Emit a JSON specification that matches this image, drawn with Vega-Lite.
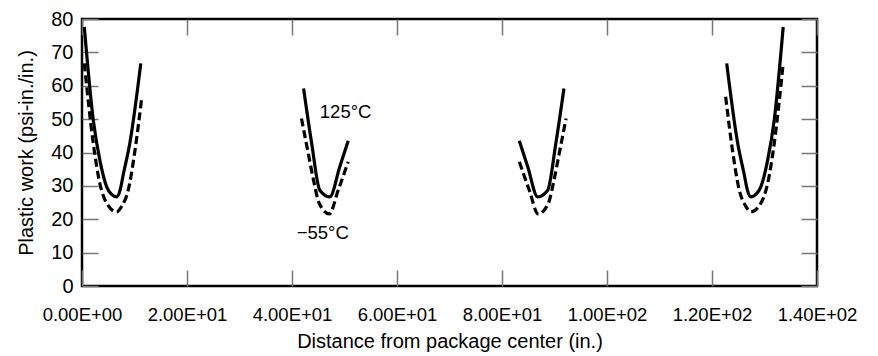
{
  "$schema": "https://vega.github.io/schema/vega-lite/v6.json",
  "width": 735,
  "height": 267,
  "autosize": {"type": "none"},
  "padding": {"left": 82, "top": 19, "right": 61, "bottom": 70},
  "background": "white",
  "config": {
    "view": {"stroke": "black", "strokeWidth": 2.5},
    "font": "Liberation Sans",
    "axis": {"domain": false, "grid": false, "tickColor": "#777777", "tickWidth": 1.5, "labelFont": "Liberation Sans", "titleFont": "Liberation Sans", "labelFontSize": 18.5, "titleFontSize": 20, "titleFontWeight": "normal", "labelColor": "black", "titleColor": "black", "labelOverlap": false, "labelFlush": false, "labelBound": false}
  },
  "datasets": {
    "curves": [
      {"seg": "a", "series": "solid", "x": 0.44, "y": 77.6},
      {"seg": "a", "series": "solid", "x": 2.15, "y": 49.7},
      {"seg": "a", "series": "solid", "x": 3.4, "y": 37.7},
      {"seg": "a", "series": "solid", "x": 4.7, "y": 29.7},
      {"seg": "a", "series": "solid", "x": 5.6, "y": 27.5},
      {"seg": "a", "series": "solid", "x": 6.6, "y": 26.7},
      {"seg": "a", "series": "solid", "x": 7.3, "y": 29.0},
      {"seg": "a", "series": "solid", "x": 7.9, "y": 33.7},
      {"seg": "a", "series": "solid", "x": 9.1, "y": 42.7},
      {"seg": "a", "series": "solid", "x": 11.2, "y": 66.7},
      {"seg": "b", "series": "solid", "x": 42.2, "y": 59.2},
      {"seg": "b", "series": "solid", "x": 43.75, "y": 42.7},
      {"seg": "b", "series": "solid", "x": 45.3, "y": 28.7},
      {"seg": "b", "series": "solid", "x": 47.2, "y": 26.7},
      {"seg": "b", "series": "solid", "x": 49.1, "y": 35.7},
      {"seg": "b", "series": "solid", "x": 50.7, "y": 43.5},
      {"seg": "c", "series": "solid", "x": 83.3, "y": 43.5},
      {"seg": "c", "series": "solid", "x": 84.9, "y": 35.7},
      {"seg": "c", "series": "solid", "x": 86.8, "y": 26.7},
      {"seg": "c", "series": "solid", "x": 88.7, "y": 28.7},
      {"seg": "c", "series": "solid", "x": 90.25, "y": 42.7},
      {"seg": "c", "series": "solid", "x": 91.8, "y": 59.2},
      {"seg": "d", "series": "solid", "x": 122.8, "y": 66.7},
      {"seg": "d", "series": "solid", "x": 124.9, "y": 42.7},
      {"seg": "d", "series": "solid", "x": 126.1, "y": 33.7},
      {"seg": "d", "series": "solid", "x": 126.7, "y": 29.0},
      {"seg": "d", "series": "solid", "x": 127.4, "y": 26.7},
      {"seg": "d", "series": "solid", "x": 128.4, "y": 27.5},
      {"seg": "d", "series": "solid", "x": 129.3, "y": 29.7},
      {"seg": "d", "series": "solid", "x": 130.6, "y": 37.7},
      {"seg": "d", "series": "solid", "x": 131.85, "y": 49.7},
      {"seg": "d", "series": "solid", "x": 133.56, "y": 77.6},
      {"seg": "a", "series": "dashed", "x": 0.44, "y": 66.7},
      {"seg": "a", "series": "dashed", "x": 2.15, "y": 42.7},
      {"seg": "a", "series": "dashed", "x": 3.4, "y": 30.7},
      {"seg": "a", "series": "dashed", "x": 4.7, "y": 24.8},
      {"seg": "a", "series": "dashed", "x": 6.6, "y": 22.2},
      {"seg": "a", "series": "dashed", "x": 7.6, "y": 24.0},
      {"seg": "a", "series": "dashed", "x": 8.8, "y": 28.7},
      {"seg": "a", "series": "dashed", "x": 10.1, "y": 40.7},
      {"seg": "a", "series": "dashed", "x": 11.4, "y": 56.7},
      {"seg": "b", "series": "dashed", "x": 41.8, "y": 50.2},
      {"seg": "b", "series": "dashed", "x": 43.1, "y": 39.7},
      {"seg": "b", "series": "dashed", "x": 44.1, "y": 31.7},
      {"seg": "b", "series": "dashed", "x": 45.2, "y": 24.7},
      {"seg": "b", "series": "dashed", "x": 47.1, "y": 21.6},
      {"seg": "b", "series": "dashed", "x": 48.8, "y": 28.7},
      {"seg": "b", "series": "dashed", "x": 50.7, "y": 37.2},
      {"seg": "c", "series": "dashed", "x": 83.3, "y": 37.2},
      {"seg": "c", "series": "dashed", "x": 85.2, "y": 28.7},
      {"seg": "c", "series": "dashed", "x": 86.9, "y": 21.6},
      {"seg": "c", "series": "dashed", "x": 88.8, "y": 24.7},
      {"seg": "c", "series": "dashed", "x": 89.9, "y": 31.7},
      {"seg": "c", "series": "dashed", "x": 90.9, "y": 39.7},
      {"seg": "c", "series": "dashed", "x": 92.2, "y": 50.2},
      {"seg": "d", "series": "dashed", "x": 122.6, "y": 56.7},
      {"seg": "d", "series": "dashed", "x": 123.9, "y": 40.7},
      {"seg": "d", "series": "dashed", "x": 125.2, "y": 28.7},
      {"seg": "d", "series": "dashed", "x": 126.4, "y": 24.0},
      {"seg": "d", "series": "dashed", "x": 127.4, "y": 22.2},
      {"seg": "d", "series": "dashed", "x": 129.3, "y": 24.8},
      {"seg": "d", "series": "dashed", "x": 130.6, "y": 30.7},
      {"seg": "d", "series": "dashed", "x": 131.85, "y": 42.7},
      {"seg": "d", "series": "dashed", "x": 133.56, "y": 66.7}
    ],
    "labels": [
      {"x": 45.3, "y": 52.2, "text": "125°C"},
      {"x": 40.9, "y": 15.8, "text": "−55°C"}
    ]
  },
  "resolve": {"axis": {"x": "independent", "y": "independent"}},
  "layer": [
    {
      "data": {"name": "curves"},
      "transform": [{"filter": "datum.series == 'solid'"}],
      "mark": {"type": "line", "color": "black", "strokeWidth": 3.2, "interpolate": "monotone", "clip": true},
      "encoding": {
        "x": {"field": "x", "type": "quantitative", "scale": {"domain": [0, 140], "nice": false, "zero": false},
          "axis": {"orient": "bottom", "values": [0, 20, 40, 60, 80, 100, 120, 140], "tickSize": -16, "labelPadding": 35, "title": "Distance from package center (in.)", "titlePadding": 8,
            "labelExpr": "datum.value == 0 ? '0.00E+00' : format(datum.value / pow(10, floor(log(datum.value) / LN10)), '.2f') + 'E+' + (floor(log(datum.value) / LN10) < 10 ? '0' : '') + floor(log(datum.value) / LN10)"}},
        "y": {"field": "y", "type": "quantitative", "scale": {"domain": [0, 80], "nice": false, "zero": false},
          "axis": {"orient": "left", "values": [0, 10, 20, 30, 40, 50, 60, 70, 80], "tickSize": -16, "labelPadding": 25, "labelFontSize": 20, "title": "Plastic work (psi-in./in.)", "titlePadding": 14}},
        "detail": {"field": "seg"}
      }
    },
    {
      "data": {"name": "curves"},
      "transform": [{"filter": "datum.series == 'dashed'"}],
      "mark": {"type": "line", "color": "black", "strokeWidth": 3.2, "strokeDash": [8, 4], "interpolate": "monotone", "clip": true},
      "encoding": {
        "x": {"field": "x", "type": "quantitative", "axis": {"orient": "top", "values": [0, 20, 40, 60, 80, 100, 120, 140], "tickSize": -16, "labels": false, "title": null}},
        "y": {"field": "y", "type": "quantitative", "axis": {"orient": "right", "values": [0, 10, 20, 30, 40, 50, 60, 70, 80], "tickSize": -16, "labels": false, "title": null}},
        "detail": {"field": "seg"}
      }
    },
    {
      "data": {"name": "labels"},
      "mark": {"type": "text", "align": "left", "baseline": "middle", "fontSize": 18.5, "font": "Liberation Sans", "color": "black"},
      "encoding": {
        "x": {"field": "x", "type": "quantitative", "axis": null},
        "y": {"field": "y", "type": "quantitative", "axis": null},
        "text": {"field": "text"}
      }
    }
  ]
}
